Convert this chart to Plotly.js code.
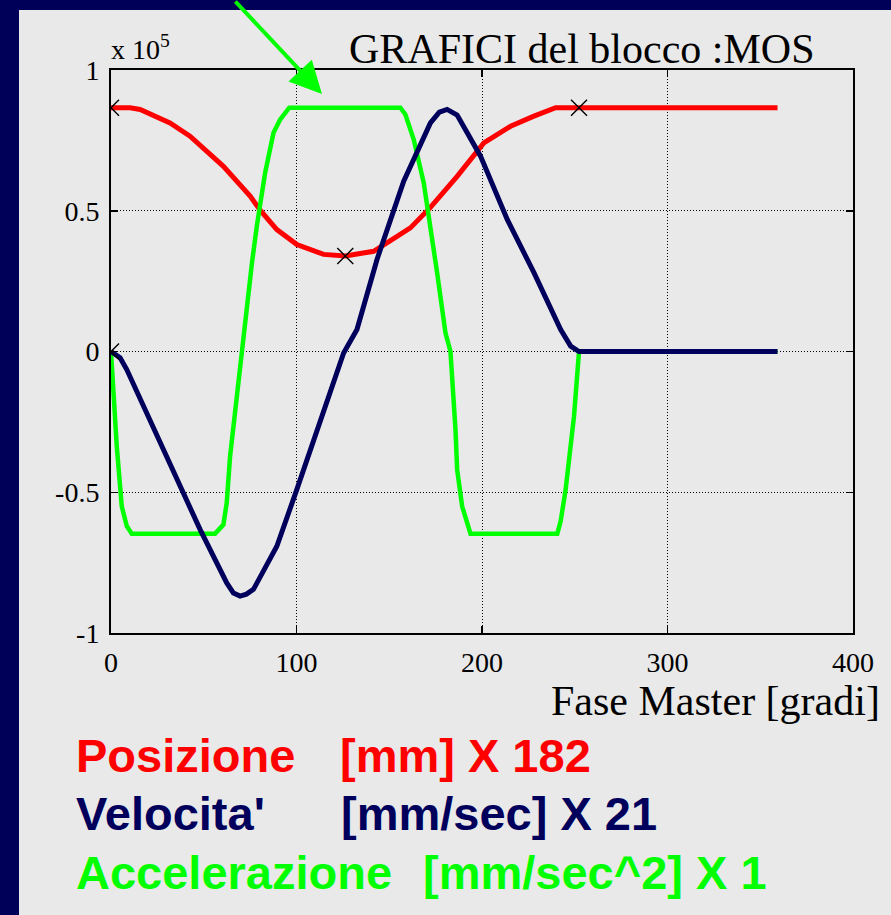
<!DOCTYPE html>
<html>
<head>
<meta charset="utf-8">
<script src="https://cdn.plot.ly/plotly-3.0.1.min.js"></script>
<style>
html,body{margin:0;padding:0;background:#000058;}
#plot{width:891px;height:915px;}
</style>
</head>
<body>
<div id="plot"></div>
<script>
// Position [mm] x 182 (scaled 1e5)
var posX = [0, 10.3, 15.7, 31.8, 42.6, 60.6, 75, 80.4, 89.4, 100.2, 114.6, 126.3, 141.6, 150.6, 161.4, 172.2, 186.6, 201, 215.4, 228, 239.7, 252.3, 300, 359.3];
var posY = [0.866, 0.866, 0.860, 0.812, 0.765, 0.658, 0.552, 0.502, 0.433, 0.380, 0.345, 0.339, 0.356, 0.392, 0.439, 0.512, 0.622, 0.741, 0.800, 0.836, 0.866, 0.866, 0.866, 0.866];

// Velocity [mm/sec] x 21
var velX = [0, 4.9, 8.5, 21.1, 33.6, 48, 62.4, 66, 69.6, 73, 76.8, 89.4, 100.2, 114.6, 125.4, 132.6, 143.4, 157.8, 172.2, 177, 181.2, 186.6, 199.2, 213.6, 228, 242.4, 247.8, 252.3, 300, 359.3];
var velY = [0, -0.022, -0.064, -0.242, -0.419, -0.632, -0.822, -0.858, -0.869, -0.862, -0.845, -0.692, -0.490, -0.206, -0.005, 0.078, 0.327, 0.605, 0.812, 0.850, 0.860, 0.840, 0.694, 0.469, 0.280, 0.078, 0.019, 0, 0, 0];

// Acceleration [mm/sec^2] x 1
var accX = [0, 1.3, 3.1, 5.8, 8.5, 11.2, 56.1, 60.6, 62.4, 64.2, 67.8, 70.5, 76, 78.6, 83.1, 87.6, 91.2, 96.1, 156, 158.7, 163.2, 168.6, 172.2, 175.8, 180.3, 183, 185.7, 186.6, 189.3, 193.8, 240.6, 242.4, 245.1, 249.6, 252.3, 300, 359.3];
var accY = [0, -0.159, -0.336, -0.55, -0.62, -0.647, -0.647, -0.615, -0.537, -0.372, -0.159, 0.007, 0.315, 0.445, 0.635, 0.777, 0.824, 0.866, 0.866, 0.842, 0.753, 0.599, 0.445, 0.280, 0.066, 0, -0.277, -0.419, -0.55, -0.647, -0.647, -0.603, -0.49, -0.230, 0, 0, 0];

// Marked points
var markX = [0, 0, 126.3, 252.3];
var markY = [0.866, 0, 0.339, 0.866];

var xTicks = [0, 100, 200, 300, 400];
var xTickText = ['0', '100', '200', '300', '400'];
var yTicks = [-1, -0.5, 0, 0.5, 1];
var yTickText = ['-1', '-0.5', '0', '0.5', '1'];

var NAVY = '#00005c';
var RED = '#ff0000';
var GREEN = '#00ff00';
var GRAY = '#e9e9e9';

// plot-area geometry in pixels
var L = 111, R = 38, T = 70, B = 282, W = 891, H = 915;
var PW = W - L - R, PH = H - T - B;
function px(x) { return (x - L) / PW; }
function py(y) { return (H - B - y) / PH; }

var serif = 'Liberation Serif';
var sans = 'Liberation Sans';

var traces = [
  {x: posX, y: posY, mode: 'lines', line: {color: RED, width: 5}, hoverinfo: 'skip'},
  {x: accX, y: accY, mode: 'lines', line: {color: GREEN, width: 4.5}, hoverinfo: 'skip'},
  {x: velX, y: velY, mode: 'lines', line: {color: NAVY, width: 5}, hoverinfo: 'skip'},
  {x: markX, y: markY, mode: 'markers', marker: {symbol: 'x-thin-open', size: 16, color: '#000', line: {color: '#000', width: 1.4}}, hoverinfo: 'skip'}
];

function axis(extra) {
  var a = {
    showline: true, linecolor: '#000', linewidth: 2, mirror: 'ticks',
    ticks: 'inside', ticklen: 7, tickwidth: 1.5, tickcolor: '#000',
    showgrid: true, gridcolor: '#000', gridwidth: 1, griddash: '1px,2px',
    zeroline: false,
    tickfont: {family: serif, size: 28, color: '#000'}
  };
  for (var k in extra) a[k] = extra[k];
  return a;
}

var layout = {
  width: W, height: H,
  margin: {l: L, r: R, t: T, b: B},
  paper_bgcolor: '#000058',
  plot_bgcolor: GRAY,
  font: {family: serif, color: '#000'},
  showlegend: false,
  xaxis: axis({range: [0, 400], tickvals: xTicks, ticktext: xTickText, ticklabelstandoff: 3}),
  yaxis: axis({range: [-1, 1], tickvals: yTicks, ticktext: yTickText, ticklabelstandoff: 4}),
  shapes: [
    {type: 'rect', xref: 'paper', yref: 'paper', x0: px(19), x1: px(895), y0: py(920), y1: py(10),
     fillcolor: GRAY, line: {width: 0}, layer: 'below'}
  ],
  annotations: [
    {xref: 'paper', yref: 'paper', x: px(347), y: py(49), xanchor: 'left', yanchor: 'middle',
     text: 'GRAFICI del blocco :MOS', showarrow: false, font: {family: serif, size: 42, color: '#000'}},
    {xref: 'paper', yref: 'paper', x: px(109), y: py(48), xanchor: 'left', yanchor: 'middle',
     text: 'x 10<sup>5</sup>', showarrow: false, font: {family: serif, size: 28, color: '#000'}},
    {xref: 'paper', yref: 'paper', x: px(882), y: py(701), xanchor: 'right', yanchor: 'middle',
     text: 'Fase Master [gradi]', showarrow: false, font: {family: serif, size: 42, color: '#000'}},
    {xref: 'paper', yref: 'paper', x: px(74), y: py(755), xanchor: 'left', yanchor: 'middle',
     text: '<b>Posizione</b>', showarrow: false, font: {family: sans, size: 47, color: RED}},
    {xref: 'paper', yref: 'paper', x: px(338), y: py(755), xanchor: 'left', yanchor: 'middle',
     text: '<b>[mm] X 182</b>', showarrow: false, font: {family: sans, size: 47, color: RED}},
    {xref: 'paper', yref: 'paper', x: px(74), y: py(813), xanchor: 'left', yanchor: 'middle',
     text: '<b>Velocita\'</b>', showarrow: false, font: {family: sans, size: 47, color: NAVY}},
    {xref: 'paper', yref: 'paper', x: px(339), y: py(813), xanchor: 'left', yanchor: 'middle',
     text: '<b>[mm/sec] X 21</b>', showarrow: false, font: {family: sans, size: 47, color: NAVY}},
    {xref: 'paper', yref: 'paper', x: px(74), y: py(872), xanchor: 'left', yanchor: 'middle',
     text: '<b>Accelerazione</b>', showarrow: false, font: {family: sans, size: 47, color: GREEN}},
    {xref: 'paper', yref: 'paper', x: px(421), y: py(872), xanchor: 'left', yanchor: 'middle',
     text: '<b>[mm/sec^2] X 1</b>', showarrow: false, font: {family: sans, size: 47, color: GREEN}},
    {xref: 'paper', yref: 'paper', x: px(322), y: py(94), text: '', showarrow: true,
     ax: -88, ay: -104, arrowcolor: GREEN, arrowwidth: 4, arrowhead: 2, arrowsize: 1.6}
  ]
};

Plotly.newPlot('plot', traces, layout, {staticPlot: true, displayModeBar: false});
</script>
</body>
</html>
